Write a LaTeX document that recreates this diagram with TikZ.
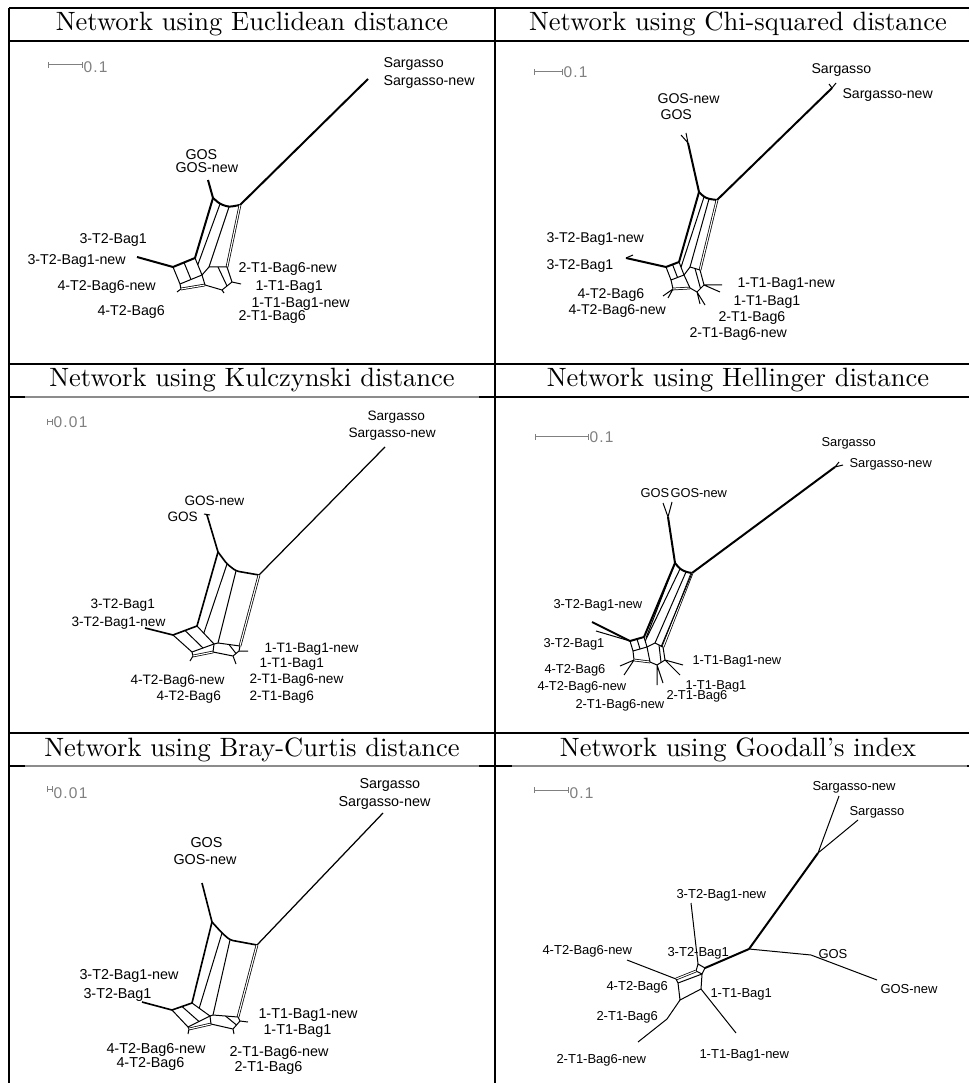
\documentclass[tikz,border=0pt]{standalone}
\usepackage{fontspec}
\newfontfamily\lblfont{Liberation Sans}
\newfontfamily\scalefont[LetterSpace=8]{Liberation Sans}
\usetikzlibrary{calc}
\def\lsz{5.7}
% Core of a split network: long leaf edges, the band of parallel splits and the lower boxes
\newcommand\netcore{%
  \draw[netlong] (Send) -- (T);
  \draw[netheavy] (Gend) -- (G);
  \draw[netheavy, rounded corners=1.2pt] (G) -- (t1) -- (t2) -- (T);
  \draw[netheavy] (G) -- (B);
  \draw[netline] (t1) -- (b1);
  \draw[netline] (t2) -- (Bp);
  \draw[netdbl] (T) -- (C);
  \draw[netheavy] (Aend) -- (A) -- (B);
  \draw[netline] (A) -- (D) -- (M) -- (B);
  \draw[netline] ($(A)!0.5!(B)$) -- ($(D)!0.5!(M)$);
  \draw[netline] (D) -- (D2);
  \draw[netdbl] (D2) -- (N);
  \draw[netline] (M) -- (N) -- (F) -- (E) -- (C) -- (Bp) -- (M);
  \draw[netline] ($(Bp)!0.5!(C)$) -- ($(F)!0.5!(E)$);
}
\begin{document}
\begin{tikzpicture}[x=0.4pt,y=-0.4pt,
  netline/.style={line width=0.4pt, line join=round},
  netheavy/.style={line width=0.8pt, line join=round},
  netlong/.style={line width=0.8pt, line join=round},
  netdbl/.style={double, double distance=0.45pt, line width=0.3pt},
  lbl/.style={anchor=base west, inner sep=0pt, font=\lblfont\fontsize{\lsz}{\lsz}\selectfont},
  celltitle/.style={anchor=base, inner sep=0pt, font=\fontsize{10.6}{12}\selectfont},
  tablerule/.style={line width=0.5pt},
  softrule/.style={line width=0.5pt, draw=black!45},
  scalebar/.style={draw=black!50, line width=0.4pt},
  scalelbl/.style={anchor=base west, inner sep=0pt, text=black!50, font=\scalefont\fontsize{6.2}{6.2}\selectfont}]

\fill[white] (0,0) rectangle (969,1083);
\useasboundingbox (0,0) rectangle (969,1083);

% ---------- table rules ----------
\draw[tablerule] (9,8) -- (969,8);
\draw[tablerule] (9,41) -- (969,41);
\draw[tablerule] (9,364) -- (969,364);
\draw[tablerule] (9,397) -- (969,397);
\draw[softrule] (25,397) -- (479,397);
\draw[tablerule] (9,733) -- (969,733);
\draw[tablerule] (9,766) -- (969,766);
\draw[softrule] (25,766) -- (479,766);
\draw[softrule] (512,766) -- (967,766);
\draw[tablerule] (9,8) -- (9,1083);
\draw[tablerule] (495,8) -- (495,1083);

% ---------- titles ----------
\node[celltitle] (t11) at (252,31) {Network using Euclidean distance};
\node[celltitle] (t12) at (738,31) {Network using Chi-squared distance};
\node[celltitle] (t21) at (252,387) {Network using Kulczynski distance};
\node[celltitle] (t22) at (738,387) {Network using Hellinger distance};
\node[celltitle] (t31) at (252,756) {Network using Bray-Curtis distance};
\node[celltitle] (t32) at (738,756) {Network using Goodall's index};

% ================= Euclidean =================
\def\lsz{5.7}
\coordinate (sb1) at (48,65); \coordinate (sb2) at (82,65);
\draw[scalebar] (sb1) -- (sb2) ($(sb1)+(0,-3)$) -- ($(sb1)+(0,3)$) ($(sb2)+(0,-3)$) -- ($(sb2)+(0,3)$);
\node[scalelbl] (sl1) at (83,73) {0.1};
\coordinate (Send) at (368,79);
\coordinate (T) at (240,205);
\coordinate (Gend) at (208,180);
\coordinate (G) at (213,198);
\coordinate (t1) at (220,204);
\coordinate (t2) at (229,207);
\coordinate (A) at (173,267);
\coordinate (Aend) at (137,257);
\coordinate (B) at (195,258);
\coordinate (D) at (180,284);
\coordinate (M) at (202,275);
\coordinate (b1) at ($(B)!0.4!(M)$);
\coordinate (Bp) at (209,267);
\coordinate (C) at (227,267);
\coordinate (E) at (232,282);
\coordinate (F) at (222,290);
\coordinate (D2) at (181,289);
\coordinate (N) at (205,285);
\netcore
\coordinate (s1) at (177,292); \coordinate (s2) at (241,284); \coordinate (s3) at (224,293);
\draw[netline] (D2) -- (s1) (E) -- (s2) (F) -- (s3);
\node[lbl] (a1) at (383,68) {Sargasso};
\node[lbl] (a2) at (383,86) {Sargasso-new};
\node[lbl] (a3) at (185,160) {GOS};
\node[lbl] (a4) at (175,173) {GOS-new};
\node[lbl] (a5) at (79,244) {3-T2-Bag1};
\node[lbl] (a6) at (27,265) {3-T2-Bag1-new};
\node[lbl] (a7) at (57,291) {4-T2-Bag6-new};
\node[lbl] (a8) at (97,316) {4-T2-Bag6};
\node[lbl] (a9) at (238,273) {2-T1-Bag6-new};
\node[lbl] (a10) at (255,291) {1-T1-Bag1};
\node[lbl] (a11) at (251,308) {1-T1-Bag1-new};
\node[lbl] (a12) at (238,321) {2-T1-Bag6};

% ================= Chi-squared =================
\def\lsz{5.65}
\coordinate (sb1) at (534,72); \coordinate (sb2) at (562,72);
\draw[scalebar] (sb1) -- (sb2) ($(sb1)+(0,-3)$) -- ($(sb1)+(0,3)$) ($(sb2)+(0,-3)$) -- ($(sb2)+(0,3)$);
\node[scalelbl] (sl2) at (563,78) {0.1};
\coordinate (Send) at (832,88);
\coordinate (T) at (717,200);
\coordinate (Gend) at (688,143);
\coordinate (G) at (699,192);
\coordinate (t1) at (704,197);
\coordinate (t2) at (709,199);
\coordinate (A) at (666,267);
\coordinate (Aend) at (626,258);
\coordinate (B) at (679,262);
\coordinate (D) at (671,280);
\coordinate (M) at (684,275);
\coordinate (b1) at ($(B)!0.4!(M)$);
\coordinate (Bp) at (690,267);
\coordinate (C) at (700,270);
\coordinate (E) at (704,285);
\coordinate (F) at (697,292);
\coordinate (D2) at (673,289);
\coordinate (N) at (690,288);
\netcore
\coordinate (f1) at (836,83); \coordinate (f2) at (829,84);
\coordinate (f3) at (681,135); \coordinate (f4) at (686,133);
\coordinate (f5) at (633,255);
\draw[netline] (Send) -- (f1) (Send) -- (f2) (Gend) -- (f3) (Gend) -- (f4) (Aend) -- (f5);
\coordinate (s1) at (663,296); \coordinate (s2) at (668,298);
\coordinate (s3) at (722,285); \coordinate (s4) at (720,292);
\coordinate (s5) at (705,305); \coordinate (s6) at (700,304);
\draw[netline] (D2) -- (s1) (D2) -- (s2) (E) -- (s3) (E) -- (s4) (F) -- (s5) (F) -- (s6);
\node[lbl] (b1l) at (811,74) {Sargasso};
\node[lbl] (b2l) at (842,99) {Sargasso-new};
\node[lbl] (b3l) at (657,104) {GOS-new};
\node[lbl] (b4l) at (660,120) {GOS};
\node[lbl] (b5l) at (546,243) {3-T2-Bag1-new};
\node[lbl] (b6l) at (546,270) {3-T2-Bag1};
\node[lbl] (b7l) at (577,299) {4-T2-Bag6};
\node[lbl] (b8l) at (568,315) {4-T2-Bag6-new};
\node[lbl] (b9l) at (737,288) {1-T1-Bag1-new};
\node[lbl] (b10l) at (733,306) {1-T1-Bag1};
\node[lbl] (b11l) at (718,322) {2-T1-Bag6};
\node[lbl] (b12l) at (689,338) {2-T1-Bag6-new};

% ================= Kulczynski =================
\begin{scope}[netlong/.style={line width=0.5pt, line join=round},
              netheavy/.style={line width=0.65pt, line join=round}]
\def\lsz{5.45}
\coordinate (sb1) at (47,422); \coordinate (sb2) at (52,422);
\draw[scalebar] (sb1) -- (sb2) ($(sb1)+(0,-3)$) -- ($(sb1)+(0,3)$) ($(sb2)+(0,-3)$) -- ($(sb2)+(0,3)$);
\node[scalelbl] (sl3) at (53,428) {0.01};
\coordinate (Send) at (385,447);
\coordinate (T) at (259,575);
\coordinate (Gend) at (207,515);
\coordinate (G) at (218,552);
\coordinate (t1) at (227,564);
\coordinate (t2) at (236,571);
\coordinate (A) at (173,635);
\coordinate (Aend) at (145,628);
\coordinate (B) at (197,626);
\coordinate (D) at (192,652);
\coordinate (M) at (214,644);
\coordinate (b1) at ($(B)!0.4!(M)$);
\coordinate (Bp) at (218,643);
\coordinate (C) at (240,646);
\coordinate (E) at (239,651);
\coordinate (F) at (233,656);
\coordinate (D2) at (193,656);
\coordinate (N) at (213,652);
\netcore
\coordinate (f1) at (204,514); \coordinate (f2) at (210,515);
\draw[netline] (f1) -- (f2);
\coordinate (s1) at (190,661); \coordinate (s2) at (236,664); \coordinate (s3) at (248,651);
\draw[netline] (D2) -- (s1) (F) -- (s2) (E) -- (s3);
\node[lbl] (c1) at (367,421) {Sargasso};
\node[lbl] (c2) at (348,438) {Sargasso-new};
\node[lbl] (c3) at (184,506) {GOS-new};
\node[lbl] (c4) at (167,522) {GOS};
\node[lbl] (c5) at (90,608) {3-T2-Bag1};
\node[lbl] (c6) at (71,626) {3-T2-Bag1-new};
\node[lbl] (c7) at (264,652) {1-T1-Bag1-new};
\node[lbl] (c8) at (259,667) {1-T1-Bag1};
\node[lbl] (c9) at (249,683) {2-T1-Bag6-new};
\node[lbl] (c10) at (249,700) {2-T1-Bag6};
\node[lbl] (c11) at (130,684) {4-T2-Bag6-new};
\node[lbl] (c12) at (156,700) {4-T2-Bag6};
\end{scope}

% ================= Hellinger =================
\def\lsz{5.15}
\coordinate (sb1) at (535,437); \coordinate (sb2) at (588,437);
\draw[scalebar] (sb1) -- (sb2) ($(sb1)+(0,-3)$) -- ($(sb1)+(0,3)$) ($(sb2)+(0,-3)$) -- ($(sb2)+(0,3)$);
\node[scalelbl] (sl4) at (589,443) {0.1};
\coordinate (Send) at (835,467);
\coordinate (T) at (692,573);
\coordinate (Gend) at (668,517);
\coordinate (G) at (675,563);
\coordinate (t1) at (680,569);
\coordinate (t2) at (686,572);
\coordinate (A) at (630,641);
\coordinate (Aend) at (592,622);
\coordinate (B) at (644,637);
\coordinate (D) at (633,651);
\coordinate (M) at (647,647);
\coordinate (b1) at ($(B)!0.4!(M)$);
\coordinate (Bp) at (655,643);
\coordinate (C) at (663,647);
\coordinate (E) at (665,660);
\coordinate (F) at (657,665);
\coordinate (D2) at (634,660);
\coordinate (N) at (650,662);
\netcore
\draw[netline] (G) -- ($(B)+(2,1)$);
\draw[netline] (T) -- ($(C)+(-2,0)$);
\coordinate (f1) at (839,462); \coordinate (f2) at (843,465);
\coordinate (f3) at (663,503); \coordinate (f4) at (672,502);
\coordinate (f5) at (596,631);
\draw[netline] (Send) -- (f1) (Send) -- (f2) (Gend) -- (f3) (Gend) -- (f4) (A) -- (f5);
\coordinate (s1) at (620,666); \coordinate (s2) at (624,675);
\coordinate (s3) at (683,665); \coordinate (s4) at (680,675);
\coordinate (s5) at (657,685); \coordinate (s6) at (663,683);
\draw[netline] (D2) -- (s1) (D2) -- (s2) (E) -- (s3) (E) -- (s4) (F) -- (s5) (F) -- (s6);
\node[lbl] (d1) at (821,447) {Sargasso};
\node[lbl] (d2) at (849,468) {Sargasso-new};
\node[lbl] (d3) at (640,497) {GOS};
\node[lbl] (d4) at (670,497) {GOS-new};
\node[lbl] (d5) at (553,608) {3-T2-Bag1-new};
\node[lbl] (d6) at (543,647) {3-T2-Bag1};
\node[lbl] (d7) at (544,673) {4-T2-Bag6};
\node[lbl] (d8) at (537,690) {4-T2-Bag6-new};
\node[lbl] (d9) at (575,708) {2-T1-Bag6-new};
\node[lbl] (d10) at (692,664) {1-T1-Bag1-new};
\node[lbl] (d11) at (685,689) {1-T1-Bag1};
\node[lbl] (d12) at (666,699) {2-T1-Bag6};

% ================= Bray-Curtis =================
\begin{scope}[netlong/.style={line width=0.5pt, line join=round},
              netheavy/.style={line width=0.65pt, line join=round}]
\def\lsz{5.75}
\coordinate (sb1) at (47,789); \coordinate (sb2) at (52,789);
\draw[scalebar] (sb1) -- (sb2) ($(sb1)+(0,-3)$) -- ($(sb1)+(0,3)$) ($(sb2)+(0,-3)$) -- ($(sb2)+(0,3)$);
\node[scalelbl] (sl5) at (53,798) {0.01};
\coordinate (Send) at (383,813);
\coordinate (T) at (257,945);
\coordinate (Gend) at (202,883);
\coordinate (G) at (212,922);
\coordinate (t1) at (222,933);
\coordinate (t2) at (230,940);
\coordinate (A) at (172,1010);
\coordinate (Aend) at (142,1002);
\coordinate (B) at (192,1003);
\coordinate (D) at (188,1027);
\coordinate (M) at (210,1016);
\coordinate (b1) at ($(B)!0.4!(M)$);
\coordinate (Bp) at (213,1015);
\coordinate (C) at (238,1017);
\coordinate (E) at (240,1021);
\coordinate (F) at (233,1029);
\coordinate (D2) at (189,1029);
\coordinate (N) at (211,1024);
\netcore
\coordinate (s1) at (188,1034); \coordinate (s2) at (234,1034); \coordinate (s3) at (248,1022);
\draw[netline] (D2) -- (s1) (F) -- (s2) (E) -- (s3);
\node[lbl] (e1) at (359,788) {Sargasso};
\node[lbl] (e2) at (338,806) {Sargasso-new};
\node[lbl] (e3) at (190,847) {GOS};
\node[lbl] (e4) at (173,864) {GOS-new};
\node[lbl] (e5) at (79,979) {3-T2-Bag1-new};
\node[lbl] (e6) at (83,998) {3-T2-Bag1};
\node[lbl] (e7) at (258,1018) {1-T1-Bag1-new};
\node[lbl] (e8) at (263,1034) {1-T1-Bag1};
\node[lbl] (e9) at (106,1053) {4-T2-Bag6-new};
\node[lbl] (e10) at (116,1067) {4-T2-Bag6};
\node[lbl] (e11) at (229,1056) {2-T1-Bag6-new};
\node[lbl] (e12) at (234,1071) {2-T1-Bag6};
\end{scope}

% ================= Goodall =================
\def\lsz{5.2}
\coordinate (sb1) at (534,790); \coordinate (sb2) at (568,790);
\draw[scalebar] (sb1) -- (sb2) ($(sb1)+(0,-3)$) -- ($(sb1)+(0,3)$) ($(sb2)+(0,-3)$) -- ($(sb2)+(0,3)$);
\node[scalelbl] (sl6) at (569,798) {0.1};
\coordinate (JS) at (818,853);
\coordinate (SNend) at (839,796);
\coordinate (SGend) at (858,820);
\coordinate (JC) at (749,949);
\coordinate (GOSj) at (811,955);
\coordinate (GNend) at (877,980);
\coordinate (q1) at (698,964);
\coordinate (q2) at (705,968);
\coordinate (q3) at (702,974);
\coordinate (q4) at (696,971);
\coordinate (T3end) at (691,903);
\coordinate (w1) at (676,979);
\coordinate (w2) at (678,983);
\coordinate (W4end) at (627,960);
\coordinate (v1) at (680,1000);
\coordinate (v2) at (701,989);
\coordinate (T1end) at (736,1033);
\coordinate (k) at (667,1019);
\coordinate (T2end) at (638,1042);
\draw[netline] (SNend) -- (JS) -- (SGend);
\draw[netheavy] (JS) -- (JC);
\draw[netline] (JC) -- (GOSj) -- (GNend);
\draw[netheavy] (JC) -- (q2);
\draw[netline] (q1) -- (q2) -- (q3) -- (q4) -- cycle;
\draw[netline] (T3end) -- (q1);
\draw[netdbl] (q4) -- (w1);
\draw[netline] (q3) -- (w2);
\draw[netline] (w1) -- (w2);
\draw[netline] (W4end) -- (w1);
\draw[netline] (w2) -- (v1) -- (v2) -- (q3);
\draw[netline] (v2) -- (T1end);
\draw[netline] (v1) -- (k) -- (T2end);
\node[lbl] (g1) at (812,790) {Sargasso-new};
\node[lbl] (g2) at (849,815) {Sargasso};
\node[lbl] (g3) at (676,898) {3-T2-Bag1-new};
\node[lbl] (g4) at (542,954) {4-T2-Bag6-new};
\node[lbl] (g5) at (667,956) {3-T2-Bag1};
\node[lbl] (g6) at (818,958) {GOS};
\node[lbl] (g7) at (880,993) {GOS-new};
\node[lbl] (g8) at (606,990) {4-T2-Bag6};
\node[lbl] (g9) at (710,997) {1-T1-Bag1};
\node[lbl] (g10) at (596,1020) {2-T1-Bag6};
\node[lbl] (g11) at (556,1063) {2-T1-Bag6-new};
\node[lbl] (g12) at (699,1058) {1-T1-Bag1-new};
\end{tikzpicture}
\end{document}
